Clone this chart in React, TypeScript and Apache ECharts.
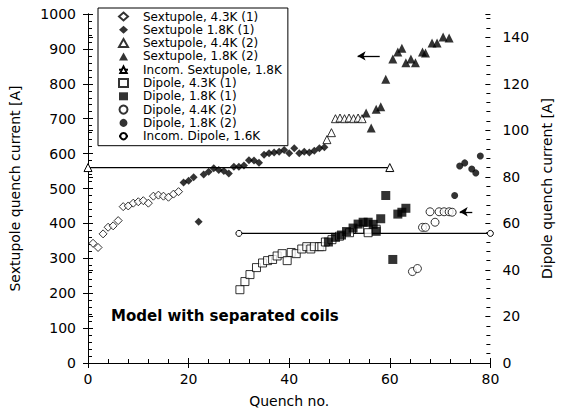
import React, { useEffect, useRef } from "react";
import * as echarts from "echarts";

// ---- data (x = quench no., y = quench current) ----
const sext43K1: number[][] = [
  [1, 343], [2, 331], [3, 370], [4, 389], [5, 393], [6, 408], [7, 448], [8, 450], [9, 458],
  [10, 462], [11, 465], [12, 458], [13, 478], [14, 481], [15, 478], [16, 475], [17, 484], [18, 491],
];
const sext18K1: number[][] = [
  [19, 517], [20, 522], [21, 532], [22, 405], [23, 540], [24, 548], [25, 558], [26, 553], [27, 550],
  [28, 543], [29, 562], [30, 562], [31, 566], [32, 581], [33, 580], [34, 574], [35, 597], [36, 601],
  [37, 603], [38, 605], [39, 610], [40, 601], [41, 615], [42, 601], [43, 605], [44, 603], [45, 608],
  [46, 615], [47, 618],
];
const sext44K2: number[][] = [
  [47.5, 640], [48.4, 660], [49.2, 700], [50.1, 702], [51, 700], [51.9, 702], [52.8, 700], [53.7, 702], [54.5, 700],
];
const sext18K2: number[][] = [
  [55.3, 716], [56.3, 673], [57.3, 727], [58.2, 734], [59.2, 813], [60.6, 871], [61.6, 891], [62.4, 902],
  [63.2, 860], [64.2, 871], [65.1, 860], [66.5, 891], [67.1, 888], [68.4, 917], [69.4, 917], [70.6, 934], [71.8, 931],
];
const incomSext: number[][] = [[0, 560], [60, 560]];

const dip43K1: number[][] = [
  [30.2, 31.5], [31.2, 35], [32.2, 38], [33.5, 41], [34.7, 43], [35.7, 44], [36.7, 44.5], [37.6, 46],
  [38.6, 47], [39.6, 44], [40.4, 47.5], [41.4, 47], [42.5, 49], [43.5, 50], [44.3, 49], [45, 50],
  [46, 50], [46.5, 50], [47.2, 52], [48.5, 53], [50, 54.5], [52, 56], [54, 57.5], [55.7, 56], [57.3, 57.5],
];
const dip18K1: number[][] = [
  [47.8, 52], [49.2, 54], [50.4, 55], [51.4, 56.5], [52.7, 58], [53.7, 59.7], [54.7, 60.5], [55.7, 60.5],
  [56.7, 59.6], [57.3, 56.6], [58.2, 62], [59.2, 72], [60.6, 44.5], [61.6, 64], [62.4, 64.8], [63.2, 66.5],
];
const dip44K2: number[][] = [
  [64.5, 39.3], [65.5, 40.6], [66.5, 58.3], [67.1, 58.3], [69, 60.5], [68, 65], [69.8, 65], [70.8, 65],
  [71.8, 65], [72.4, 64.8],
];
const dip18K2: number[][] = [[72.9, 72], [73.9, 84.7], [74.9, 86], [76.3, 83.4], [77.1, 81.7], [78, 89]];
const incomDip: number[][] = [[30, 55.7], [80, 55.7]];

// annotation arrows [from, to] in data coordinates
const sextArrow: number[][] = [[58, 880], [53.6, 880]];
const dipArrow: number[][] = [[76.4, 65], [73.9, 65]];

const seriesNames = [
  "Sextupole, 4.3K (1)",
  "Sextupole 1.8K (1)",
  "Sextupole, 4.4K (2)",
  "Sextupole, 1.8K (2)",
  "Incom. Sextupole, 1.8K",
  "Dipole, 4.3K (1)",
  "Dipole, 1.8K (1)",
  "Dipole, 4.4K (2)",
  "Dipole, 1.8K (2)",
  "Incom. Dipole, 1.6K",
];

const FONT = "DejaVu Sans";
const open = { color: "#fff", borderColor: "#000", borderWidth: 1 };
const filled = { color: "#000", borderColor: "#000", borderWidth: 0 };

export default function App() {
  const ref = useRef<HTMLDivElement>(null);
  useEffect(() => {
    if (!ref.current) return;
    const chart = echarts.init(ref.current, undefined, { renderer: "svg" });
    const axisText = { color: "#000", fontFamily: FONT, fontSize: 14 };
    const line = { show: true, lineStyle: { color: "#000", width: 1 } };
    const plain = (v: number) => String(v);
    const scatter = (name: string, data: number[][], symbol: string, size: number, style: any, yIdx: number, extra: any = {}) => ({
      type: "scatter", name, data, symbol, symbolSize: size, itemStyle: style, yAxisIndex: yIdx, z: 3, ...extra,
    });
    const arrowLine = (pts: number[][]) => ({
      silent: true,
      symbol: ["none", "arrow"],
      symbolSize: [7, 8],
      label: { show: false },
      lineStyle: { color: "#000", width: 1.3, type: "solid" },
      data: [[{ coord: pts[0] }, { coord: pts[1] }]],
    });
    chart.setOption({
      animation: false,
      backgroundColor: "#fff",
      grid: { left: 88, right: 68, top: 14, bottom: 54 },
      legend: {
        orient: "vertical",
        left: 98,
        top: 8,
        padding: [2, 6, 3, 20],
        itemWidth: 9,
        itemHeight: 8,
        itemGap: 0.3,
        borderColor: "#000",
        borderWidth: 1,
        backgroundColor: "#fff",
        textStyle: { color: "#000", fontFamily: FONT, fontSize: 12, lineHeight: 13, padding: [0, 0, 0, 10] },
        data: seriesNames,
        z: 10,
      },
      xAxis: [
        {
          type: "value", min: 0, max: 80, interval: 20, position: "bottom",
          axisLine: line, axisTick: { show: true, length: 5, lineStyle: { color: "#000" } },
          axisLabel: { ...axisText, margin: 9, formatter: plain }, splitLine: { show: false },
          name: "Quench no.", nameLocation: "middle", nameGap: 31, nameTextStyle: axisText,
        },
        {
          type: "value", min: 0, max: 80, interval: 20, position: "bottom",
          axisLine: { show: false }, axisLabel: { show: false }, splitLine: { show: false },
          axisTick: { show: true, inside: true, length: 5, lineStyle: { color: "#000" } },
          minorTick: { show: true, splitNumber: 5, length: 4, lineStyle: { color: "#000" } },
        },
      ],
      yAxis: [
        {
          type: "value", min: 0, max: 1000, interval: 100, position: "left",
          axisLine: line, axisTick: { show: true, length: 5, lineStyle: { color: "#000" } },
          axisLabel: { ...axisText, margin: 12, formatter: plain }, splitLine: { show: false },
          name: "Sextupole quench current [A]", nameLocation: "middle", nameRotate: 90, nameGap: 66,
          nameTextStyle: axisText,
        },
        {
          type: "value", min: 0, max: 150, interval: 20, position: "right",
          axisLine: line, axisTick: { show: true, length: 5, lineStyle: { color: "#000" } },
          axisLabel: { ...axisText, margin: 12, formatter: (v: number) => (v > 140 ? "" : String(v)) },
          splitLine: { show: false },
          name: "Dipole quench current [A]", nameLocation: "middle", nameRotate: 90, nameGap: 48,
          nameTextStyle: axisText,
        },
        {
          type: "value", min: 0, max: 1000, interval: 100, position: "left",
          axisLine: { show: false }, axisLabel: { show: false }, splitLine: { show: false },
          axisTick: { show: true, inside: true, length: 5, lineStyle: { color: "#000" } },
          minorTick: { show: true, splitNumber: 5, length: 4, lineStyle: { color: "#000" } },
        },
        {
          type: "value", min: 0, max: 150, interval: 20, position: "right",
          axisLine: { show: false }, axisLabel: { show: false }, splitLine: { show: false },
          axisTick: { show: true, inside: true, length: 5, lineStyle: { color: "#000" } },
          minorTick: { show: true, splitNumber: 5, length: 4, lineStyle: { color: "#000" } },
        },
      ],
      graphic: [
        {
          type: "text", left: 111, top: 308, z: 5,
          style: { text: "Model with separated coils", font: `bold 15px "${FONT}"`, fill: "#000" },
        },
      ],
      series: [
        scatter(seriesNames[0], sext43K1, "diamond", 8, open, 0),
        scatter(seriesNames[1], sext18K1, "diamond", 8, filled, 0),
        scatter(seriesNames[2], sext44K2, "triangle", 8, open, 0),
        scatter(seriesNames[3], sext18K2, "triangle", 9, filled, 0, { markLine: arrowLine(sextArrow) }),
        {
          type: "line", name: seriesNames[4], data: incomSext, yAxisIndex: 0, symbol: "triangle", symbolSize: 8,
          showSymbol: true, itemStyle: open, lineStyle: { color: "#000", width: 1.2 }, z: 2,
        },
        scatter(seriesNames[5], dip43K1, "rect", 8, open, 1),
        scatter(seriesNames[6], dip18K1, "rect", 9, filled, 1),
        scatter(seriesNames[7], dip44K2, "circle", 8, open, 1, { markLine: arrowLine(dipArrow) }),
        scatter(seriesNames[8], dip18K2, "circle", 7, filled, 1),
        {
          type: "line", name: seriesNames[9], data: incomDip, yAxisIndex: 1, symbol: "circle", symbolSize: 6,
          showSymbol: true, itemStyle: open, lineStyle: { color: "#000", width: 1.2 }, z: 2,
        },
      ],
    });
    return () => chart.dispose();
  }, []);
  return <div ref={ref} style={{ position: "fixed", left: 0, top: 0, width: 562, height: 417, background: "#fff" }} />;
}
